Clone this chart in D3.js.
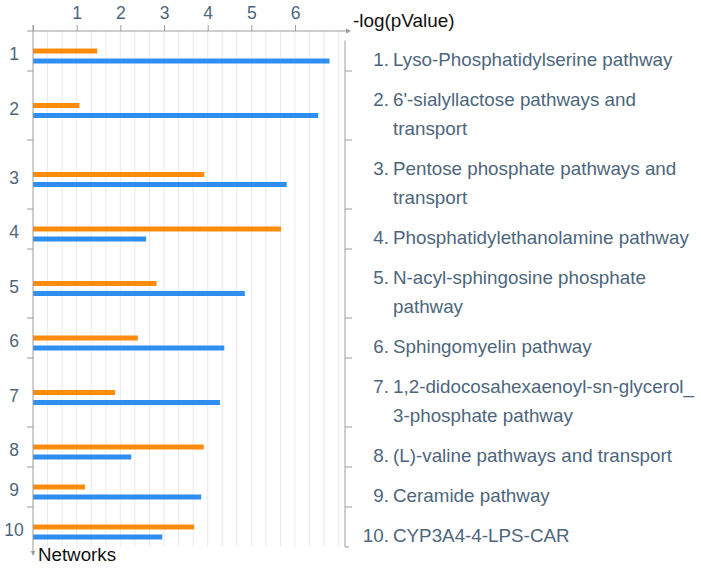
<!DOCTYPE html>
<html>
<head>
<meta charset="utf-8">
<script src="https://cdn.jsdelivr.net/npm/d3@7"></script>
<style>
  html, body { margin: 0; padding: 0; background: #fff; }
  svg { display: block; font-family: "Liberation Sans", Arial, Helvetica, sans-serif; }
</style>
</head>
<body>
<svg id="chart" width="701" height="568"></svg>
<script>
// ---- data ----
const categories = ["1", "2", "3", "4", "5", "6", "7", "8", "9", "10"];
const orangeValues = [1.47, 1.06, 3.92, 5.68, 2.83, 2.40, 1.88, 3.91, 1.19, 3.69];
const blueValues   = [6.79, 6.53, 5.81, 2.59, 4.85, 4.38, 4.28, 2.25, 3.85, 2.96];
const pathwayLines = [
  ["Lyso-Phosphatidylserine pathway"],
  ["6'-sialyllactose pathways and", "transport"],
  ["Pentose phosphate pathways and", "transport"],
  ["Phosphatidylethanolamine pathway"],
  ["N-acyl-sphingosine phosphate", "pathway"],
  ["Sphingomyelin pathway"],
  ["1,2-didocosahexaenoyl-sn-glycerol_", "3-phosphate pathway"],
  ["(L)-valine pathways and transport"],
  ["Ceramide pathway"],
  ["CYP3A4-4-LPS-CAR"]
];
const xTickValues = [1, 2, 3, 4, 5, 6];
const xAxisTitle = "-log(pValue)";
const yAxisTitle = "Networks";

// ---- layout ----
const svg = d3.select("#chart");
const x0 = 33, topY = 31;
const x = d3.scaleLinear().domain([0, 7]).range([x0, x0 + 7 * 43.67]);
const baseH = 40, lineH = 29;

// group boundaries derived from legend line counts
const heights = pathwayLines.map(l => baseH + lineH * (l.length - 1));
const bounds = [topY];
heights.forEach(h => bounds.push(bounds[bounds.length - 1] + h));
const bottomY = bounds[bounds.length - 1];
const centers = heights.map((h, i) => bounds[i] + h / 2);
const y = d3.scaleOrdinal().domain(categories).range(centers);

const axisColor = "#9c9c9c";
const textColor = "#4d667c";
const fontFam = "'Liberation Sans', Arial, sans-serif";

// gridlines every 1/3 unit
const gridVals = d3.range(1, 22).map(k => k / 3);
svg.append("g").selectAll("line").data(gridVals).join("line")
  .attr("x1", d => x(d)).attr("x2", d => x(d))
  .attr("y1", topY).attr("y2", bottomY)
  .attr("stroke", "#eaeaee").attr("stroke-width", 1);

// bars
const barH = 5;
svg.append("g").selectAll("rect").data(categories).join("rect")
  .attr("x", x(0)).attr("y", (d) => y(d) - 2.5)
  .attr("width", (d, i) => x(orangeValues[i]) - x(0)).attr("height", barH)
  .attr("fill", "#fd8c0c");
svg.append("g").selectAll("rect").data(categories).join("rect")
  .attr("x", x(0)).attr("y", (d) => y(d) + 7.5)
  .attr("width", (d, i) => x(blueValues[i]) - x(0)).attr("height", barH)
  .attr("fill", "#2e8ef2");

// top axis
const gx = svg.append("g").attr("transform", `translate(0,${topY})`)
  .call(d3.axisTop(x).tickValues([0].concat(xTickValues)).tickSize(6).tickPadding(6)
    .tickFormat(d => d === 0 ? "" : d));
gx.select(".domain").remove();
gx.selectAll(".tick line").attr("stroke", axisColor);
gx.selectAll(".tick text").attr("fill", textColor).style("font-size", "17.5px")
  .style("font-family", fontFam);
svg.append("line").attr("x1", x0 - 6).attr("x2", 347).attr("y1", topY).attr("y2", topY)
  .attr("stroke", axisColor);
svg.append("path").attr("d", `M346,${topY - 2.5}L351,${topY}L346,${topY + 2.5}Z`).attr("fill", axisColor);

// left axis (labels)
const gy = svg.append("g").attr("transform", `translate(${x0},0)`)
  .call(d3.axisLeft(y).tickSize(0).tickPadding(0));
gy.select(".domain").remove();
gy.selectAll(".tick text").attr("x", 14 - x0).attr("text-anchor", "middle")
  .attr("dy", "0.4em").attr("transform", "translate(0,1.5)")
  .attr("fill", textColor).style("font-size", "17.5px")
  .style("font-family", fontFam);
svg.append("line").attr("x1", x0).attr("x2", x0).attr("y1", topY - 6).attr("y2", bottomY + 5)
  .attr("stroke", axisColor);
svg.append("path").attr("d", `M${x0 - 2.2},${bottomY + 4}L${x0},${bottomY + 9}L${x0 + 2.2},${bottomY + 4}Z`).attr("fill", axisColor);
svg.append("g").selectAll("line").data(bounds.slice(1, -1)).join("line")
  .attr("x1", x0 - 6).attr("x2", x0).attr("y1", d => d).attr("y2", d => d)
  .attr("stroke", axisColor);

// right bracket
const bx = 345;
svg.append("line").attr("x1", bx).attr("x2", bx).attr("y1", 40.5).attr("y2", bottomY)
  .attr("stroke", axisColor);
svg.append("g").selectAll("line").data(bounds.slice(1)).join("line")
  .attr("x1", bx).attr("x2", (d, i) => i === bounds.length - 2 ? bx + 4 : bx + 7)
  .attr("y1", d => d).attr("y2", d => d)
  .attr("stroke", axisColor);

// axis titles
svg.append("text").attr("transform", "translate(353,27) scale(1.08,1)").text(xAxisTitle)
  .attr("fill", "#111").style("font-size", "17.5px");
svg.append("text").attr("transform", "translate(38,561) scale(1.04,1)").text(yAxisTitle)
  .attr("fill", "#111").style("font-size", "18px");

// legend
const sx = 1.075;
const lg = svg.append("g");
categories.forEach((c, i) => {
  const t0 = bounds[i] + 35;
  lg.append("text").attr("transform", `translate(389,${t0}) scale(${sx},1)`).attr("text-anchor", "end")
    .attr("fill", textColor).style("font-size", "17.5px").text(c + ".");
  pathwayLines[i].forEach((s, j) => {
    lg.append("text").attr("transform", `translate(393,${t0 + j * lineH}) scale(${sx},1)`)
      .attr("fill", textColor).style("font-size", "17.5px").text(s);
  });
});
</script>
</body>
</html>
